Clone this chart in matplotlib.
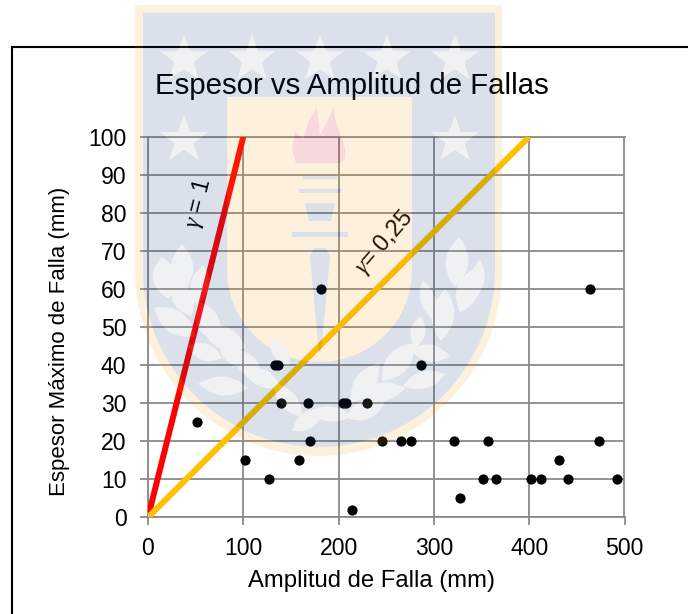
import numpy as np
import matplotlib
matplotlib.use("Agg")
import matplotlib.pyplot as plt
from matplotlib.figure import Figure
from matplotlib.backends.backend_agg import FigureCanvasAgg
from matplotlib.patches import Polygon, PathPatch
from matplotlib.path import Path
from matplotlib.lines import Line2D

plt.rcParams['font.family'] = ['Liberation Sans', 'DejaVu Sans']
plt.rcParams['mathtext.fontset'] = 'custom'
plt.rcParams['mathtext.it'] = 'Liberation Serif:italic'
plt.rcParams['mathtext.rm'] = 'Liberation Sans'

# Data
amplitud = [51, 102, 127, 158, 133, 136, 140, 168, 170, 182, 205, 208, 214, 230, 246,
            266, 276, 286, 321, 327.5, 351, 356.5, 365, 402, 412.5, 431, 441, 464, 473, 492]
espesor = [25, 15, 10, 15, 40, 40, 30, 30, 20, 60, 30, 30, 2, 30, 20,
           20, 20, 40, 20, 5, 10, 20, 10, 10, 10, 15, 10, 60, 20, 10]
gamma1_x = [0, 100]
gamma1_y = [0, 100]
gamma025_x = [0, 400]
gamma025_y = [0, 100]
x_ticks = [0, 100, 200, 300, 400, 500]
y_ticks = [0, 10, 20, 30, 40, 50, 60, 70, 80, 90, 100]

W, H = 688, 614
GRID = '#8A8A8A'


def watermark():
    f = Figure(figsize=(W / 100, H / 100), dpi=100)
    c = FigureCanvasAgg(f)
    f.patch.set_alpha(0)
    a = f.add_axes([0, 0, 1, 1])
    a.set_xlim(0, W)
    a.set_ylim(H, 0)
    a.axis('off')
    BLUE, GOLD, PALE, PINK = (8/255, 55/255, 115/255), (248/255, 155/255, 22/255), (160/255, 163/255, 170/255), (195/255, 0, 22/255)

    def shield(x0, x1, top, ys, bottom, col):
        t = np.linspace(np.pi, 0, 120)
        cx, rx = (x0 + x1) / 2, (x1 - x0) / 2
        pts = [(x0, top)] + list(zip(cx + rx * np.cos(t), ys + (bottom - ys) * np.sin(t))) + [(x1, top)]
        a.add_patch(Polygon(pts, closed=True, fc=col, ec='none'))

    shield(135, 502, 5, 270, 456, GOLD)
    shield(143, 495, 13, 270, 447, BLUE)
    shield(227, 412, 97, 270, 362, GOLD)

    def star(cx, cy, R=25):
        ang = -np.pi / 2 + np.arange(10) * np.pi / 5
        rad = np.where(np.arange(10) % 2 == 0, R, R * 0.4)
        a.add_patch(Polygon(np.c_[cx + rad * np.cos(ang), cy + rad * np.sin(ang)], fc=PALE, ec='none'))

    for sx in (184, 252, 320, 387, 455):
        star(sx, 59)
    for sx in (184, 455):
        star(sx, 140)

    def leaf(cx, cy, length, width, angle):
        th = np.deg2rad(angle)
        ux, uy = np.cos(th), np.sin(th)
        vx, vy = -uy, ux
        w = width * 1.9
        p0 = (cx - ux * length / 2, cy - uy * length / 2)
        p1 = (cx + ux * length / 2, cy + uy * length / 2)
        c1 = (cx + vx * w, cy + vy * w)
        c2 = (cx - vx * w, cy - vy * w)
        a.add_patch(PathPatch(Path([p0, c1, p1, c2, p0],
                                   [Path.MOVETO, Path.CURVE3, Path.CURVE3, Path.CURVE3, Path.CURVE3]),
                              fc=PALE, ec='none'))

    leaves = [
        (165, 278, 42, 13, 80), (182, 268, 48, 12, 90), (200, 285, 40, 10, 100), (183, 298, 40, 11, 65),
        (175, 322, 50, 12, 35), (208, 322, 45, 12, 65), (224, 338, 48, 12, 25), (205, 352, 36, 9, 20),
        (248, 365, 42, 10, 50), (230, 352, 34, 9, 60), (223, 386, 50, 10, 5), (262, 378, 42, 9, 25),
        (280, 352, 34, 8, 55), (288, 400, 44, 9, 50), (308, 420, 38, 9, -35), (330, 414, 44, 8, 5),
        (365, 410, 42, 10, -20), (382, 392, 48, 10, -10), (365, 383, 48, 11, -55), (398, 362, 50, 12, -50),
        (424, 380, 44, 9, -15), (430, 353, 40, 9, 10), (418, 332, 32, 8, -80), (443, 315, 52, 12, -85),
        (428, 300, 40, 8, 75), (468, 290, 48, 12, -70), (457, 262, 50, 12, -85), (478, 278, 38, 7, -85),
    ]
    for lf in leaves:
        leaf(*lf)

    flame = [(296, 163), (292, 150), (295, 131), (303, 140), (309, 120), (317, 107), (320, 135),
             (328, 120), (333, 107), (336, 122), (345, 148), (345, 158), (341, 163)]
    a.add_patch(Polygon(flame, fc=PINK, ec='none'))
    a.add_patch(Polygon([(303, 176), (337, 176), (337, 179), (303, 179)], fc=BLUE, ec='none'))
    a.add_patch(Polygon([(299, 189), (341, 189), (341, 193), (299, 193)], fc=BLUE, ec='none'))
    a.add_patch(Polygon([(305, 203), (335, 203), (331, 221), (309, 221)], fc=BLUE, ec='none'))
    a.add_patch(Polygon([(292, 232), (348, 232), (348, 237), (292, 237)], fc=BLUE, ec='none'))
    a.add_patch(Polygon([(310, 255), (315, 248), (325, 248), (330, 255), (326, 300), (321, 352), (319, 352), (314, 300)],
                        fc=BLUE, ec='none'))
    c.draw()
    arr = np.asarray(c.buffer_rgba()).astype(float) / 255
    arr[..., 3] *= 0.15
    return arr


fig = plt.figure(figsize=(W / 100, H / 100), dpi=100, facecolor='white')
ax = fig.add_axes([148 / W, 1 - 517.3 / H, (624.5 - 148) / W, (517.3 - 136.7) / H])
ax.patch.set_alpha(0)
ax.set_xlim(0, 500)
ax.set_ylim(0, 100)
ax.set_xticks(x_ticks)
ax.set_yticks(y_ticks)
ax.grid(True, color=GRID, lw=1.3, zorder=1)
ax.set_axisbelow(True)
for s in ax.spines.values():
    s.set_color(GRID)
    s.set_linewidth(1.3)
ax.tick_params(axis='both', length=5.5, width=1.3, color=GRID, labelsize=16.6, labelcolor='black')
ax.tick_params(axis='x', pad=9)
ax.tick_params(axis='y', pad=10)

ax.plot(gamma1_x, gamma1_y, color='#FF0000', lw=4.3, solid_capstyle='butt', zorder=3)
ax.plot(gamma025_x, gamma025_y, color='#FFC000', lw=4.3, solid_capstyle='butt', zorder=3)
ax.scatter(amplitud, espesor, s=54, color='black', linewidths=0, zorder=4, clip_on=False)


def px(x, y):
    return x / W, 1 - y / H


fig.text(*px(155, 85.5), 'Espesor vs Amplitud de Fallas', fontsize=21.2, ha='left', va='center', color='black')
fig.text(*px(372, 581.5), 'Amplitud de Falla (mm)', fontsize=17.2, ha='center', va='center', color='black')
fig.text(*px(60, 341), 'Espesor Máximo de Falla (mm)', fontsize=16, ha='center', va='center',
         rotation=90, color='black')
fig.text(*px(198, 203), '$γ$ = 1', fontsize=17, ha='center', va='center', rotation=76, color='black')
fig.text(*px(384, 243), '$γ$= 0,25', fontsize=17, ha='center', va='center', rotation=49, color='black')

# Slide border (top and left edges only)
fig.add_artist(Line2D([12 / W, 12 / W, 1], [0, 1 - 47 / H, 1 - 47 / H], transform=fig.transFigure,
                      color='black', lw=1.5, solid_joinstyle='miter'))

fig.figimage(watermark(), xo=0, yo=0, origin='upper', zorder=10)

fig.savefig('out.png', dpi=100)
